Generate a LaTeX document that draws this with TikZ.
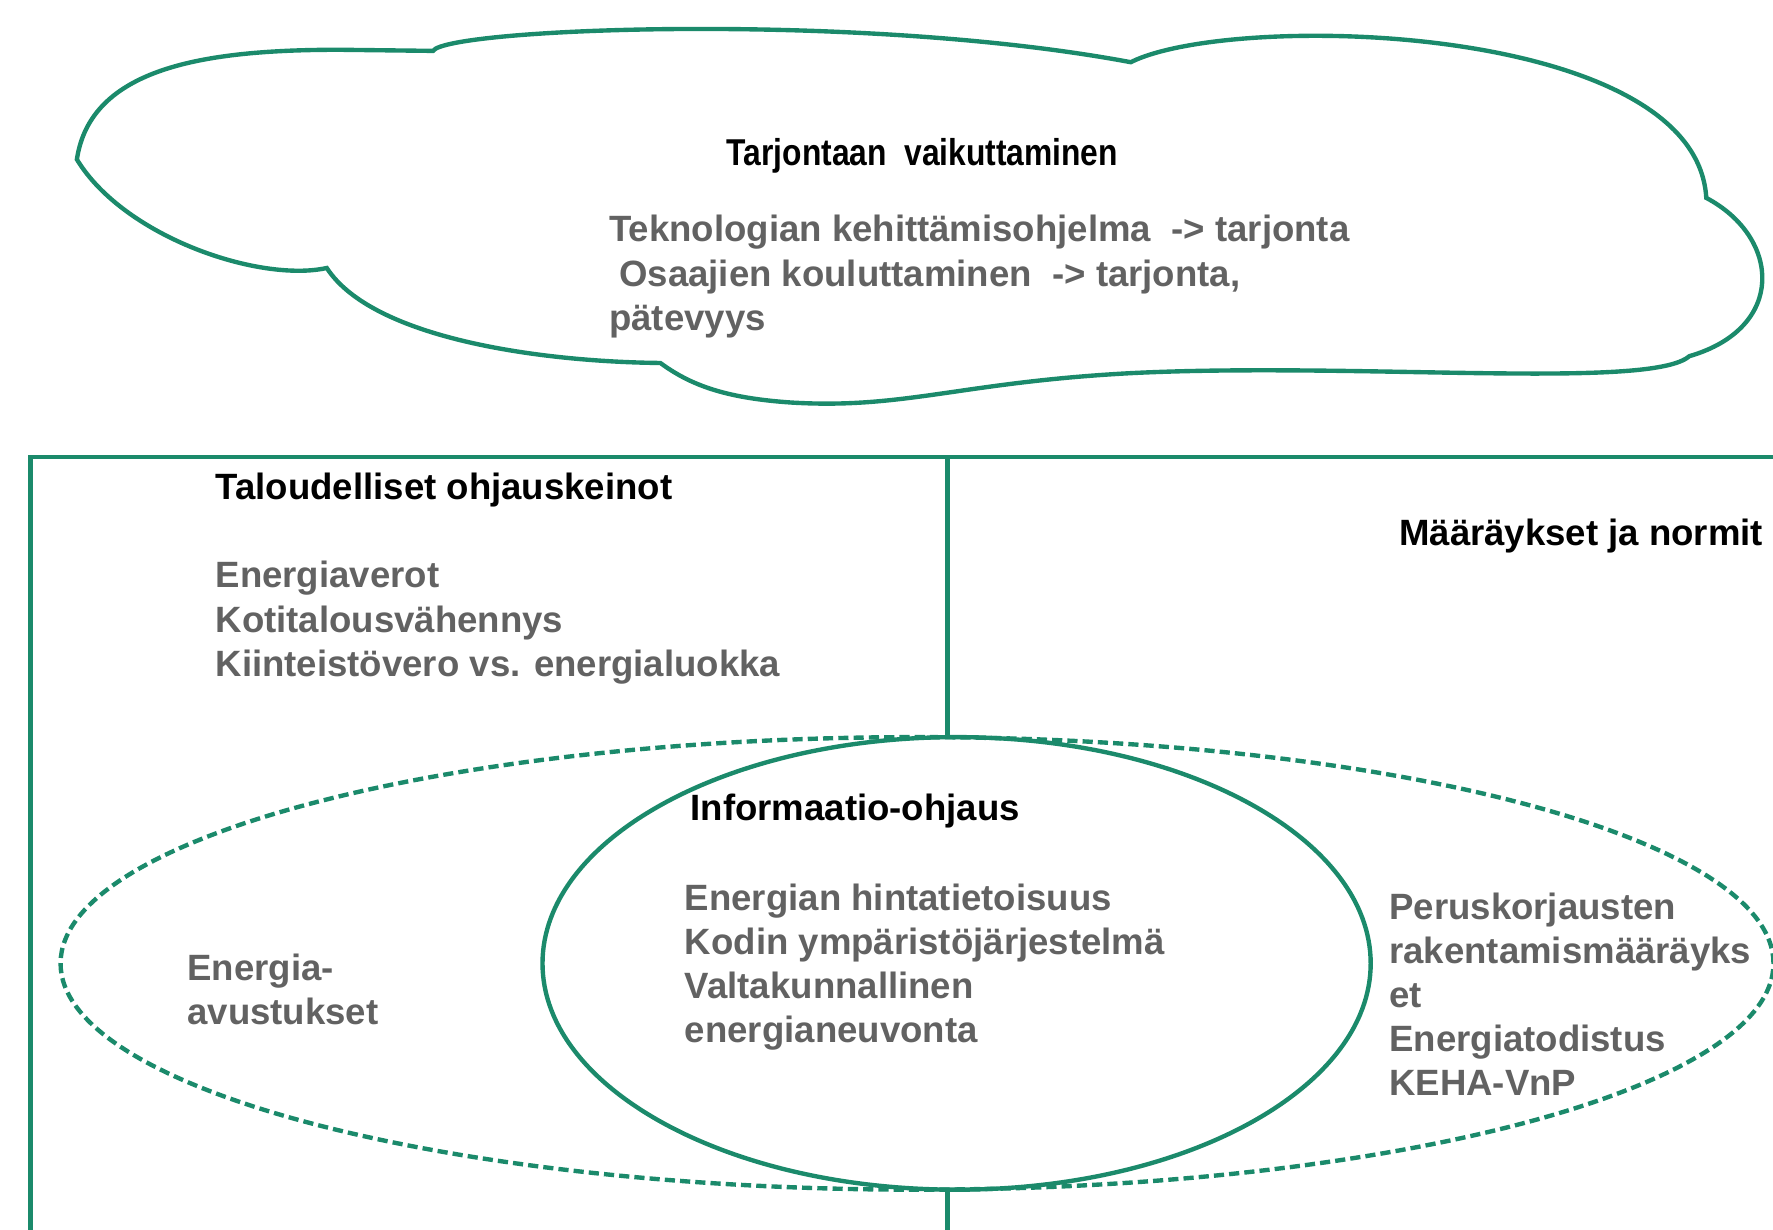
\documentclass[tikz,border=0pt]{standalone}
\usepackage{fontspec}
\setmainfont{Liberation Sans}
\newfontfamily\narrowfont[FakeStretch=0.85]{Liberation Sans}
\definecolor{leafgreen}{HTML}{1B8A6B}
\definecolor{notegray}{HTML}{626262}
\tikzset{
  outline/.style={draw=leafgreen, line width=1.1pt},
  dashline/.style={outline, dash pattern=on 0.09cm off 0.045cm},
  headtext/.style={inner sep=0pt, anchor=base west, text=black,
    font=\fontsize{9.2}{11.1}\selectfont\bfseries},
  narrowhead/.style={headtext, font=\narrowfont\fontsize{9.4}{11.1}\selectfont\bfseries},
  bodytext/.style={headtext, text=notegray, align=left},
}
\begin{document}
\begin{tikzpicture}[x=0.01cm, y=-0.01cm]
  \useasboundingbox (0,0) rectangle (1568,1087);
  \clip (0,0) rectangle (1568,1087);

  % cloud
  \draw[outline] (383,45)
    .. controls (395,25) and (760,10) .. (1000,55)
    .. controls (1090,10) and (1500,20) .. (1509,175)
    .. controls (1575,210) and (1580,290) .. (1494,315)
    .. controls (1460,345) and (1200,320) .. (1000,330)
    .. controls (850,338) and (800,362) .. (700,356)
    .. controls (640,352) and (610,340) .. (584,321)
    .. controls (480,320) and (330,300) .. (289,237)
    .. controls (230,250) and (110,210) .. (68,141)
    .. controls (80,60) and (180,44) .. (300,44)
    -- cycle;

  % frame and divider
  \draw[outline] (1620,404) -- (27,404) -- (27,1120);
  \draw[outline] (838,404) -- (838,652);
  \draw[outline] (838,1052) -- (838,1120);

  % ellipses
  \draw[dashline] (811,852) ellipse [x radius=7.57cm, y radius=2cm];
  \draw[outline] (846,852) ellipse [x radius=3.66cm, y radius=2cm];

  % texts (multi-line nodes sit on their last baseline)
  \node[narrowhead] (supplyhead) at (642,146) {Tarjontaan\ \ vaikuttaminen};
  \node[bodytext] (supplytext) at (538,292)
    {Teknologian kehittämisohjelma\ \ -> tarjonta\\\ Osaajien kouluttaminen\ \ -> tarjonta,\\pätevyys};

  \node[headtext] (econhead) at (190,442) {Taloudelliset ohjauskeinot};
  \node[bodytext] (econtext) at (190,598)
    {Energiaverot\\Kotitalousvähennys\\Kiinteistövero vs. energialuokka};

  \node[headtext, anchor=base east] (normhead) at (1560,482) {Määräykset ja normit};

  \node[headtext] (infohead) at (610,726) {Informaatio-ohjaus};
  \node[bodytext] (infotext) at (605,922)
    {Energian hintatietoisuus\\Kodin ympäristöjärjestelmä\\Valtakunnallinen\\energianeuvonta};

  \node[bodytext] (grants) at (165,906) {Energia-\\avustukset};
  \node[bodytext] (normtext) at (1228,969)
    {Peruskorjausten\\rakentamismääräyks\\et\\Energiatodistus\\KEHA-VnP};
\end{tikzpicture}
\end{document}
